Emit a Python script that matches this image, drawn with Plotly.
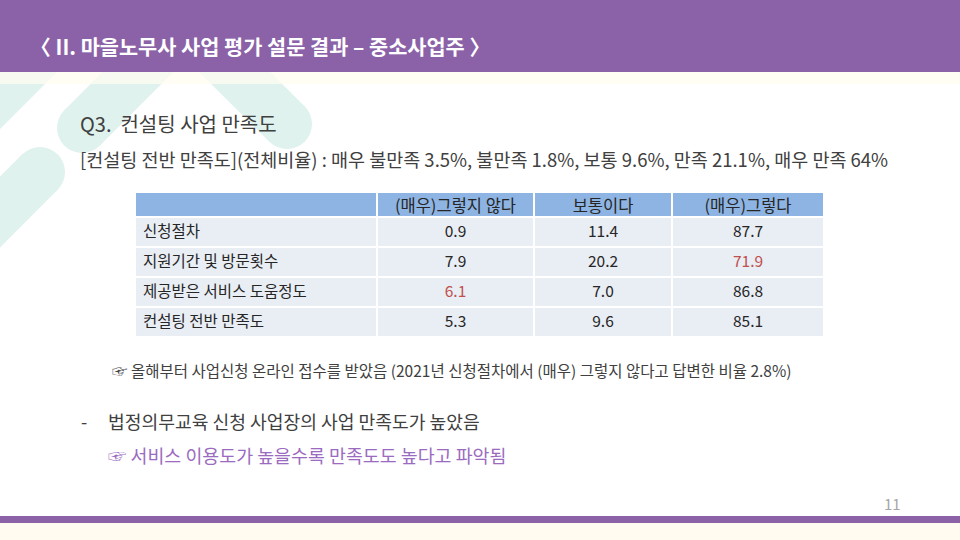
import numpy as np
import plotly.graph_objects as go

# survey table values (%)
items = ['신청절차', '지원기간 및 방문횟수', '제공받은 서비스 도움정도', '컨설팅 전반 만족도']
col_names = ['(매우)그렇지 않다', '보통이다', '(매우)그렇다']
negative = [0.9, 7.9, 6.1, 5.3]
neutral = [11.4, 20.2, 7.0, 9.6]
positive = [87.7, 71.9, 86.8, 85.1]
highlight = [(1, 2), (2, 0)]  # (row, value column) shown in red

title = '〈 II. 마을노무사 사업 평가 설문 결과 – 중소사업주 〉'
question = 'Q3.  컨설팅 사업 만족도'
summary = '[컨설팅 전반 만족도](전체비율) : 매우 불만족 3.5%, 불만족 1.8%, 보통 9.6%, 만족 21.1%, 매우 만족 64%'
note = '☞ 올해부터 사업신청 온라인 접수를 받았음 (2021년 신청절차에서 (매우) 그렇지 않다고 답변한 비율 2.8%)'
point = '법정의무교육 신청 사업장의 사업 만족도가 높았음'
point_note = '☞ 서비스 이용도가 높을수록 만족도도 높다고 파악됨'
page_no = '11'

PURPLE = '#8b62a8'
MINT = '#dff2ee'
FONT = 'Noto Sans CJK KR'

vals = [negative, neutral, positive]
cell_text = [items] + [[f'{v:.1f}' for v in col] for col in vals]
colors = [['#262626'] * len(items) for _ in range(4)]
for r, c in highlight:
    colors[c + 1][r] = '#c0504d'

W, H = 960, 540
tx0, tx1, ty0 = 135, 824, 192

fig = go.Figure()
fig.add_trace(go.Table(
    domain=dict(x=[tx0 / W, tx1 / W], y=[1 - 345 / H, 1 - ty0 / H]),
    columnwidth=[242, 157, 138, 152],
    header=dict(values=[''] + col_names, fill_color='#8db4e2', height=25,
                line=dict(color='white', width=1.5), align='center',
                font=dict(family=FONT, size=16.5, color='#262626')),
    cells=dict(values=cell_text, fill_color='#e9edf4', height=30,
               line=dict(color='white', width=1.5),
               align=['left', 'center', 'center', 'center'],
               font=dict(family=FONT, size=15.5, color=colors)),
))


def band(p0, end, r):
    d = np.array(end, float) - np.array(p0, float)
    d /= np.linalg.norm(d)
    n = np.array([-d[1], d[0]]) * r
    pts = [p0 + n, end + n, end - n, p0 - n]
    path = 'M ' + ' L '.join(f'{x:.1f},{y:.1f}' for x, y in pts) + ' Z'
    fig.add_shape(type='path', path=path, fillcolor=MINT, line_width=0, layer='below')
    fig.add_shape(type='circle', x0=end[0] - r, x1=end[0] + r, y0=end[1] - r, y1=end[1] + r,
                  fillcolor=MINT, line_width=0, layer='below')


# decorative chevrons top-left
band(np.array([186.0, 24.0]), np.array([82.0, 128.0]), 25)
band(np.array([186.0, 24.0]), np.array([287.0, 124.0]), 25)
band(np.array([-120.0, 332.0]), np.array([40.0, 172.0]), 25)
fig.add_shape(type='path', path='M 57,72 L -60,189 L -60,0 L 57,0 Z', fillcolor=MINT,
              line_width=0, layer='below')

# header / footer bars
fig.add_shape(type='rect', x0=0, x1=W, y0=72, y1=84, fillcolor='rgba(255,252,240,0.75)',
              line_width=0, layer='below')
fig.add_shape(type='rect', x0=0, x1=W, y0=0, y1=72, fillcolor=PURPLE, line_width=0, layer='below')
fig.add_shape(type='rect', x0=0, x1=W, y0=516, y1=523, fillcolor=PURPLE, line_width=0, layer='below')
fig.add_shape(type='rect', x0=0, x1=W, y0=523, y1=H, fillcolor='#fffbf0', line_width=0, layer='below')


def txt(x, y, s, size, color='#404040', bold=False, anchor='left'):
    fig.add_annotation(x=x, y=y, text=f'<b>{s}</b>' if bold else s, showarrow=False,
                       xanchor=anchor, yanchor='middle', xref='x', yref='y',
                       font=dict(family=FONT, size=size, color=color))


txt(28, 46, title, 20.8, 'white', bold=True)
txt(78, 123, question, 20)
txt(78, 159, summary, 18.5)
txt(110, 370, note, 15.5, '#404040')
txt(79, 421, '-', 18)
txt(106, 421, point, 18.2)
txt(106, 455, point_note, 18.4, '#9b6bc0')
txt(903, 503, page_no, 15, '#a6a6a6', anchor='right')

fig.update_xaxes(range=[0, W], visible=False, fixedrange=True)
fig.update_yaxes(range=[H, 0], visible=False, fixedrange=True)
fig.update_layout(width=W, height=H, margin=dict(l=0, r=0, t=0, b=0),
                  paper_bgcolor='white', plot_bgcolor='white', showlegend=False)

fig.write_html('out.html', config={'displayModeBar': False},
               post_script="document.body.style.margin='0';")
